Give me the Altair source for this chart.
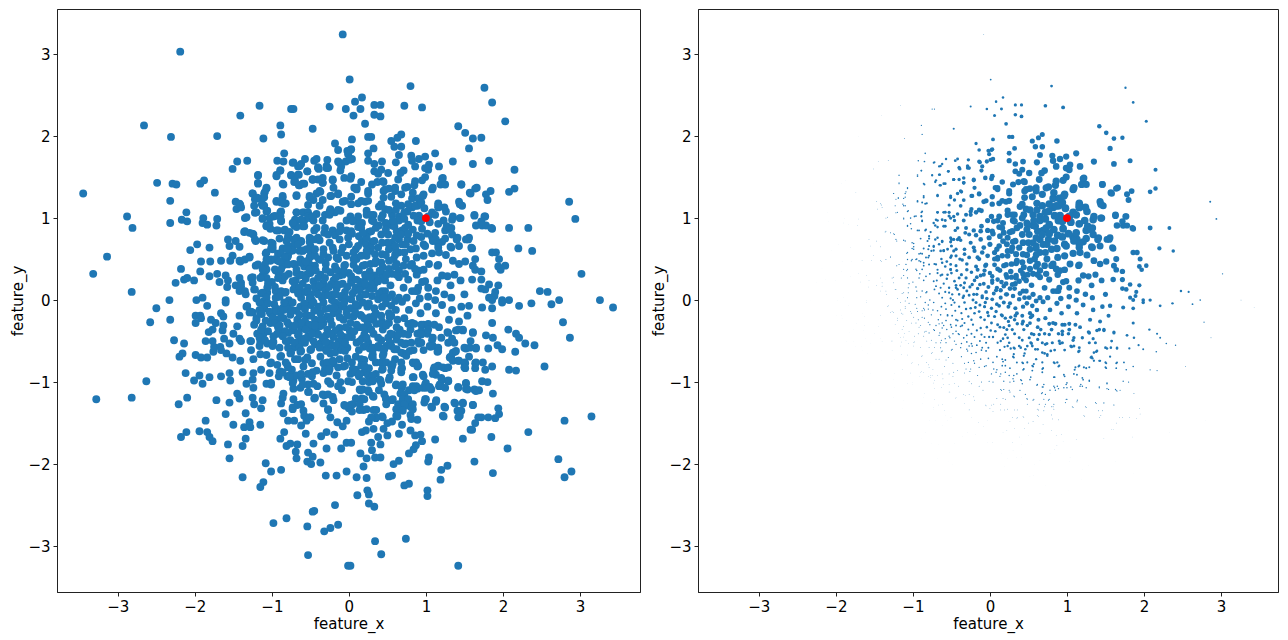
import altair as alt
import pandas as pd

UPPER_LEFT = [(-0.08,3.24),(-2.19,3.03),(-1.16,2.37),(-0.75,2.33),(-0.72,2.33),(-0.25,2.36),(-0.04,2.33),(-1.41,2.25),(-0.89,2.13),(-0.88,2.02),(-0.47,2.09),(-2.66,2.13),(-2.31,1.99),(-1.71,2.0),(-1.11,1.97),(-0.18,1.91),(-0.14,1.83),(-0.02,1.82),(-0.84,1.79),(-0.57,1.72),(-0.42,1.72),(-0.45,1.70),(-0.28,1.71),(-0.93,1.70),(-0.85,1.69),(-1.45,1.69),(-1.32,1.70),(-1.51,1.60),(-0.72,1.68),(-0.66,1.63),(-0.62,1.66),(-0.13,1.68),(-0.04,1.69),(-0.39,1.60),(-0.29,1.61),(-0.89,1.58),(-0.94,1.51),(-0.54,1.57),(-0.75,1.52),(-0.65,1.53),(-1.18,1.52),(-1.18,1.42),(-2.49,1.43),(-2.29,1.42),(-2.24,1.41),(-1.93,1.42),(-1.88,1.46),(-1.74,1.31),(-3.45,1.30),(-2.32,1.21),(-2.88,1.02),(-2.81,0.88),(-2.11,1.07),(-2.17,0.98),(-2.10,0.96),(-2.32,0.94),(-1.89,1.0),(-1.90,0.94),(-1.84,0.92),(-1.71,0.99),(-1.72,0.91),(-1.47,1.20),(-1.41,1.16),(-1.46,1.11),(-1.40,1.13),(-1.25,1.30),(-1.07,1.36),(-1.10,1.30),(-1.19,1.24),(-1.23,1.15),(-1.12,1.24),(-1.35,1.0),(-1.20,1.07),(-1.12,1.15),(-1.07,1.08),(-1.12,0.99),(-0.98,1.02),(-0.85,1.41),(-0.68,1.27),(-0.94,1.20),(-0.86,1.25),(-0.82,1.18),(-0.71,1.44),(-0.64,1.40),(-0.58,1.42),(-0.47,1.47),(-0.34,1.49),(-0.34,1.43),(-0.21,1.46),(-0.06,1.49),(-0.11,1.58),(-0.20,1.37),(-0.14,1.30),(-0.24,1.27),(-0.37,1.32),(-0.42,1.30),(-0.51,1.25),(-0.46,1.22),(-0.53,1.16),(-0.34,1.22),(-0.38,1.15),(-0.89,1.07),(-0.88,0.96),(-1.07,0.91),(-1.02,0.87),(-0.89,1.02),(-0.68,1.07),(-0.58,1.07),(-0.68,0.97),(-0.58,0.97),(-0.71,0.91),(-0.58,0.90),(-0.46,0.97),(-0.45,0.85),(-0.34,0.97),(-0.24,1.11),(-0.18,1.07),(-0.08,1.20),(-0.11,1.09),(-0.03,0.97),(-0.11,0.90),(-0.21,0.85),(-0.32,0.82),(-0.18,0.79),(-0.03,0.85),(-1.36,0.83),(-1.24,0.80),(-1.10,0.72),(-1.21,0.72),(-1.57,0.74),(-1.47,0.72),(-0.94,0.85),(-0.84,0.85),(-0.79,0.75),(-0.71,0.74),(-0.99,0.69),(-0.99,0.62),(-1.08,0.57),(-0.90,0.57),(-0.76,0.60),(-0.50,0.74),(-0.60,0.60),(-1.97,0.68),(-2.06,0.61),(-1.81,0.64),(-1.55,0.66),(-1.42,0.65),(-1.51,0.54),(-1.54,0.48),(-1.41,0.47),(-1.29,0.53),(-3.14,0.53),(-1.92,0.47),(-1.80,0.47),(-1.66,0.48),(-3.32,0.32),(-2.18,0.38),(-1.93,0.35),(-1.81,0.29),(-1.71,0.32),(-1.60,0.30),(-2.25,0.21),(-2.14,0.25),(-2.10,0.27),(-2.01,0.24),(-1.68,0.22),(-1.57,0.24),(-1.58,0.16),(-2.82,0.10),(-1.42,0.27),(-1.47,0.18),(-1.40,0.21),(-1.27,0.27),(-1.23,0.13),(-1.08,0.36),(-1.21,0.42),(-2.33,0.0),(-1.90,0.03),(-1.98,0.0),(-1.60,0.0),(-1.42,0.11),(-1.34,0.07),(-1.14,0.08),(-1.06,0.09),(-0.95,0.11),(-0.82,0.10),(-0.69,0.24),(-0.95,0.36),(-1.02,0.48),(-0.91,0.32)]

UPPER_RIGHT = [(0.01,2.69),(0.80,2.61),(1.76,2.59),(1.86,2.41),(0.17,2.47),(0.08,2.42),(0.15,2.33),(0.33,2.38),(0.41,2.38),(0.72,2.37),(0.95,2.35),(0.06,2.25),(0.33,2.26),(0.41,2.24),(0.21,2.15),(2.03,2.18),(1.42,2.12),(1.51,2.04),(1.61,1.97),(1.72,1.98),(0.25,1.99),(0.29,1.99),(0.68,2.02),(0.63,1.98),(0.55,1.94),(0.87,1.94),(0.04,1.96),(0.59,1.87),(0.68,1.87),(0.32,1.85),(0.02,1.83),(1.56,1.85),(0.25,1.79),(0.65,1.77),(0.81,1.76),(0.99,1.75),(1.12,1.79),(0.04,1.72),(0.91,1.72),(0.25,1.70),(0.33,1.66),(0.43,1.69),(0.61,1.68),(0.82,1.70),(1.35,1.69),(1.61,1.66),(1.82,1.70),(1.04,1.65),(0.99,1.61),(1.03,1.59),(0.86,1.63),(1.17,1.63),(2.15,1.59),(0.33,1.57),(0.42,1.59),(0.38,1.54),(0.51,1.55),(0.71,1.58),(0.67,1.55),(0.02,1.48),(0.16,1.44),(0.30,1.41),(0.37,1.44),(0.45,1.44),(0.99,1.50),(0.95,1.46),(1.21,1.48),(0.76,1.38),(0.85,1.40),(0.60,1.37),(0.52,1.36),(0.45,1.33),(0.07,1.37),(0.10,1.35),(0.25,1.30),(1.08,1.35),(1.19,1.41),(1.25,1.41),(1.46,1.41),(1.64,1.36),(1.58,1.30),(1.84,1.33),(1.78,1.29),(1.80,1.22),(2.08,1.32),(2.15,1.36),(2.86,1.20),(2.94,0.99),(0.45,1.25),(0.55,1.26),(0.97,1.29),(0.82,1.24),(0.90,1.24),(1.43,1.20),(1.47,1.15),(1.16,1.18),(1.16,1.13),(0.03,1.26),(0.21,1.20),(0.12,1.18),(0.61,1.18),(0.68,1.15),(0.39,1.14),(0.47,1.11),(0.23,1.09),(0.89,1.15),(0.82,1.13),(1.26,1.08),(1.08,1.07),(0.76,1.08),(0.56,1.04),(0.65,1.02),(0.32,1.04),(0.91,1.03),(1.63,1.03),(1.77,1.02),(1.45,1.0),(1.34,0.98),(1.23,0.97),(0.65,0.97),(0.48,0.94),(0.30,0.97),(0.10,0.97),(0.17,0.94),(0.02,1.02),(0.94,0.99),(0.89,0.97),(1.16,0.93),(1.65,0.91),(1.73,0.91),(1.78,0.91),(1.86,0.87),(2.08,0.88),(2.33,0.88),(0.39,0.91),(0.56,0.91),(0.69,0.85),(0.95,0.87),(1.33,0.88),(1.25,0.85),(1.34,0.80),(1.41,0.76),(1.25,0.75),(0.94,0.77),(1.08,0.77),(1.13,0.74),(1.56,0.76),(1.52,0.74),(1.21,0.71),(0.26,0.83),(0.42,0.80),(0.12,0.89),(0.04,0.81),(0.17,0.72),(0.65,0.74),(0.76,0.74),(0.84,0.72),(0.56,0.70),(0.50,0.70),(0.69,0.68),(0.97,0.68),(1.43,0.66),(1.32,0.65),(1.16,0.68),(1.60,0.63),(2.20,0.63),(2.38,0.60),(1.86,0.58),(1.91,0.58),(1.95,0.50),(0.38,0.64),(0.22,0.68),(0.09,0.62),(0.0,0.68),(0.52,0.62),(0.80,0.62),(0.65,0.58),(0.74,0.50),(0.97,0.54),(1.08,0.57),(1.17,0.58),(1.26,0.55),(1.35,0.48),(1.43,0.44),(1.51,0.47),(1.64,0.50),(1.61,0.42),(1.64,0.37),(1.72,0.35),(1.94,0.41),(2.03,0.42),(1.97,0.37),(3.02,0.32),(1.37,0.31),(1.45,0.24),(1.60,0.25),(1.72,0.25),(1.21,0.30),(1.28,0.29),(1.15,0.24),(1.32,0.18),(1.82,0.19),(1.94,0.18),(1.72,0.14),(1.77,0.13),(1.90,0.10),(1.89,0.05),(1.82,0.03),(1.86,0.0),(2.48,0.11),(2.58,0.10),(2.73,0.0),(3.26,0.0),(2.08,0.0),(1.99,0.0),(1.50,0.07),(1.33,0.03),(1.24,0.07),(1.13,0.11),(1.03,0.04),(0.89,0.11),(0.95,0.22),(0.82,0.44),(1.04,0.44),(1.15,0.42),(0.91,0.36),(0.65,0.36),(0.80,0.42),(0.52,0.48),(0.35,0.48),(0.13,0.36),(0.22,0.28),(0.43,0.32),(0.56,0.32),(0.65,0.28),(0.43,0.11),(0.71,0.15),(0.22,0.07),(0.30,0.05),(0.82,0.11),(0.56,0.07),(0.65,0.03),(0.09,0.15)]

LOWER_LEFT = [(-2.50,-0.10),(-2.58,-0.27),(-2.32,-0.24),(-1.84,-0.07),(-1.60,-0.03),(-1.99,-0.19),(-1.93,-0.19),(-1.92,-0.22),(-1.99,-0.28),(-1.79,-0.24),(-1.66,-0.16),(-1.63,-0.20),(-1.42,-0.19),(-1.33,-0.08),(-1.29,-0.15),(-1.25,-0.15),(-1.73,-0.28),(-1.77,-0.36),(-1.82,-0.39),(-1.63,-0.31),(-1.64,-0.37),(-1.45,-0.32),(-1.50,-0.41),(-2.27,-0.49),(-2.14,-0.53),(-1.86,-0.50),(-1.77,-0.50),(-1.62,-0.47),(-1.55,-0.53),(-1.42,-0.47),(-1.40,-0.50),(-2.16,-0.65),(-2.20,-0.69),(-1.99,-0.67),(-1.92,-0.70),(-1.84,-0.70),(-1.76,-0.63),(-1.75,-0.57),(-1.67,-0.57),(-1.66,-0.61),(-1.59,-0.65),(-1.51,-0.70),(-1.41,-0.74),(-1.27,-0.50),(-1.27,-0.61),(-1.24,-0.72),(-1.15,-0.66),(-1.07,-0.67),(-1.02,-0.77),(-2.12,-0.89),(-1.94,-0.92),(-2.01,-0.98),(-1.90,-1.02),(-1.81,-0.94),(-1.66,-0.93),(-1.55,-0.89),(-1.54,-0.98),(-1.38,-0.88),(-2.63,-0.99),(-3.28,-1.21),(-2.82,-1.19),(-2.10,-1.19),(-2.21,-1.27),(-1.72,-1.22),(-1.55,-1.25),(-1.45,-1.14),(-1.42,-1.20),(-1.33,-1.02),(-1.24,-1.07),(-1.24,-0.89),(-1.25,-0.97),(-1.14,-0.85),(-1.03,-0.89),(-1.07,-1.02),(-1.01,-1.03),(-1.25,-1.19),(-1.23,-1.27),(-1.12,-1.22),(-1.14,-1.32),(-1.60,-1.39),(-1.34,-1.38),(-1.86,-1.47),(-1.50,-1.52),(-1.29,-1.49),(-1.36,-1.55),(-1.28,-1.55),(-1.15,-1.52),(-2.11,-1.61),(-2.18,-1.67),(-1.94,-1.60),(-1.84,-1.61),(-1.81,-1.67),(-1.77,-1.72),(-1.34,-1.69),(-1.57,-1.76),(-1.38,-1.78),(-1.55,-1.93),(-0.86,-1.19),(-0.88,-1.26),(-0.85,-1.14),(-0.85,-1.38),(-0.72,-1.21),(-0.67,-1.28),(-0.73,-1.33),(-0.59,-1.35),(-0.58,-1.41),(-0.50,-1.43),(-0.79,-1.47),(-0.71,-1.47),(-0.55,-1.47),(-0.62,-1.53),(-0.84,-1.61),(-0.89,-1.69),(-0.56,-1.63),(-0.46,-1.75),(-0.36,-1.66),(-0.29,-1.61),(-0.19,-1.64),(-0.81,-1.78),(-0.76,-1.75),(-0.67,-1.76),(-0.69,-1.85),(-0.68,-1.93),(-0.53,-1.86),(-0.47,-1.91),(-0.54,-1.97),(-0.49,-2.0),(-0.37,-1.98),(-0.29,-1.81),(-0.10,-1.81),(-0.03,-1.74),(-1.08,-1.99),(-1.01,-2.09),(-0.88,-2.07),(-1.38,-2.16),(-1.11,-2.22),(-1.15,-2.28),(-0.30,-2.14),(-0.16,-2.14),(-0.03,-2.09),(-0.18,-2.50),(-0.45,-2.57),(-0.47,-2.58),(-0.81,-2.66),(-0.98,-2.72),(-0.54,-2.76),(-0.32,-2.82),(-0.24,-2.78),(-0.14,-2.74),(-0.53,-3.11),(-0.01,-3.24),(-0.45,-1.20),(-0.32,-1.16),(-0.21,-1.18),(-0.33,-1.26),(-0.20,-1.22),(-0.06,-1.28),(0.0,-1.32),(-0.27,-1.34),(-0.24,-1.43),(-0.15,-1.49),(-0.08,-1.54),(-0.03,-1.47),(-0.72,-1.08),(-0.63,-1.07),(-0.52,-1.12),(-0.41,-1.05),(-0.09,-1.10),(-0.89,-0.87),(-0.91,-0.93),(-0.80,-0.93),(-0.74,-0.85),(-0.72,-0.98),(-0.61,-0.96),(-0.48,-0.93),(-0.46,-1.02),(-0.33,-0.89),(-0.26,-0.87),(-0.24,-1.02),(-0.11,-1.0),(-0.07,-0.81),(-0.20,-0.77),(-0.33,-0.77),(-0.48,-0.77),(-0.59,-0.81),(-0.80,-0.79),(-0.93,-0.79),(-0.89,-0.69),(-0.76,-0.65),(-0.63,-0.63),(-0.50,-0.61),(-0.37,-0.69),(-0.24,-0.65),(-0.11,-0.61),(-0.02,-0.71),(-1.06,-0.53),(-0.98,-0.51),(-1.15,-0.51),(-1.19,-0.41),(-1.11,-0.41),(-0.93,-0.41),(-1.02,-0.28),(-1.15,-0.16),(-1.02,-0.16),(-0.93,-0.24),(-0.85,-0.12),(-0.76,-0.18),(-0.63,-0.08),(-0.50,-0.06),(-0.37,-0.16),(-0.67,-0.24),(-0.50,-0.33),(-0.33,-0.28),(-0.20,-0.16),(-0.07,-0.24),(-0.07,-0.08),(-0.41,-0.41),(-0.20,-0.45),(-0.07,-0.45),(-0.76,-0.49),(-0.63,-0.49),(-0.37,-0.53),(-0.24,-0.53),(-0.85,-0.39),(-0.72,-0.37)]

LOWER_RIGHT = [(3.43,-0.09),(2.63,-0.05),(2.37,-0.04),(2.21,-0.07),(1.99,-0.03),(1.86,-0.10),(1.73,-0.09),(1.56,-0.07),(1.46,-0.08),(1.54,-0.19),(2.78,-0.27),(2.87,-0.46),(1.86,-0.28),(2.07,-0.36),(2.17,-0.41),(2.21,-0.46),(2.29,-0.53),(2.41,-0.55),(1.78,-0.43),(1.87,-0.46),(1.93,-0.55),(1.99,-0.60),(2.16,-0.63),(2.54,-0.81),(2.08,-0.85),(2.17,-0.86),(1.86,-0.81),(1.77,-0.85),(1.74,-0.76),(1.64,-0.77),(1.64,-0.83),(1.51,-0.77),(1.51,-0.83),(1.56,-0.69),(1.81,-0.59),(1.65,-0.59),(1.52,-0.59),(1.48,-0.37),(1.39,-0.37),(1.61,-0.39),(1.58,-0.50),(1.28,-0.39),(1.34,-0.47),(1.38,-0.63),(1.33,-0.71),(1.43,-0.74),(1.25,-0.83),(1.15,-0.81),(1.10,-0.85),(1.13,-0.91),(1.73,-0.99),(1.80,-1.0),(1.52,-1.02),(1.54,-1.09),(1.42,-1.07),(1.64,-1.10),(1.69,-1.10),(1.87,-1.14),(1.21,-0.97),(1.29,-0.99),(1.17,-1.05),(1.25,-1.07),(0.97,-0.93),(0.84,-0.94),(0.84,-1.07),(0.99,-1.03),(1.07,-1.09),(0.89,-1.08),(0.99,-1.21),(1.13,-1.24),(1.08,-1.31),(1.25,-1.31),(1.38,-1.26),(1.48,-1.26),(1.61,-1.28),(1.41,-1.35),(1.46,-1.35),(1.94,-1.32),(1.95,-1.39),(1.90,-1.44),(1.81,-1.43),(1.72,-1.43),(1.68,-1.43),(1.23,-1.42),(1.42,-1.43),(2.80,-1.47),(3.15,-1.42),(2.33,-1.61),(1.64,-1.50),(1.58,-1.58),(1.60,-1.58),(1.48,-1.69),(1.85,-1.67),(2.06,-1.81),(1.12,-1.70),(0.95,-1.72),(0.93,-1.64),(0.86,-1.65),(0.80,-1.59),(0.65,-1.63),(0.69,-1.52),(0.50,-1.65),(0.87,-1.77),(0.84,-1.82),(0.78,-1.87),(1.04,-1.92),(1.03,-1.97),(0.65,-1.96),(0.58,-2.0),(1.28,-2.02),(1.20,-2.07),(1.63,-1.97),(2.72,-1.94),(2.89,-2.09),(2.80,-2.16),(1.87,-2.11),(1.19,-2.19),(0.56,-2.14),(0.52,-2.15),(0.78,-2.24),(0.72,-2.26),(1.02,-2.32),(1.02,-2.39),(0.10,-2.16),(0.23,-2.17),(0.11,-2.38),(0.24,-2.32),(0.26,-2.37),(0.26,-2.48),(0.33,-2.52),(0.34,-2.94),(0.74,-2.91),(0.42,-3.10),(0.02,-3.24),(1.42,-3.24),(0.15,-1.87),(0.23,-1.93),(0.19,-2.03),(0.34,-1.92),(0.41,-1.92),(0.30,-1.83),(0.29,-1.74),(0.38,-1.67),(0.41,-1.76),(0.03,-1.74),(0.17,-1.61),(0.22,-1.59),(0.32,-1.57),(0.45,-1.57),(0.50,-1.50),(0.63,-1.42),(0.56,-1.48),(0.26,-1.48),(0.35,-1.44),(0.43,-1.42),(0.80,-1.40),(0.89,-1.46),(0.80,-1.30),(0.63,-1.34),(0.71,-1.30),(0.82,-1.30),(0.76,-1.22),(0.56,-1.22),(0.48,-1.20),(0.67,-1.14),(0.17,-1.20),(0.09,-1.20),(0.32,-1.18),(0.19,-1.34),(0.32,-1.34),(0.04,-1.36),(0.02,-1.28),(0.15,-1.10),(0.26,-1.12),(0.39,-1.10),(0.61,-1.04),(0.69,-1.06),(0.78,-1.10),(0.52,-0.97),(0.41,-0.98),(0.30,-0.96),(0.13,-0.93),(0.04,-1.0),(0.26,-1.0),(0.09,-0.85),(0.26,-0.83),(0.43,-0.85),(0.56,-0.81),(0.69,-0.83),(0.84,-0.77),(0.89,-0.81),(0.43,-0.77),(0.17,-0.75),(0.30,-0.69),(0.45,-0.65),(0.71,-0.65),(0.84,-0.61),(0.97,-0.61),(1.06,-0.57),(1.15,-0.63),(1.32,-0.69),(0.13,-0.61),(0.09,-0.69),(0.19,-0.57),(0.32,-0.59),(0.54,-0.53),(0.74,-0.53),(0.91,-0.53),(0.54,-0.41),(0.71,-0.41),(0.89,-0.41),(1.02,-0.41),(1.17,-0.33),(1.08,-0.49),(0.82,-0.28),(0.97,-0.30),(0.63,-0.24),(0.43,-0.26),(0.24,-0.26),(0.13,-0.33),(0.06,-0.20),(0.24,-0.08),(0.43,-0.08),(0.61,-0.12),(0.78,-0.12),(0.93,-0.16),(1.13,-0.16),(1.21,-0.06),(1.34,-0.12),(1.43,-0.26),(0.69,-0.02),(0.48,-0.04),(0.26,-0.04),(1.02,-0.08),(0.04,-0.45),(0.17,-0.47),(0.32,-0.41),(0.15,-0.18),(0.35,-0.16),(0.52,-0.16),(0.87,-0.04),(1.30,-0.24)]

CORE = [(-0.62,0.72),(-0.5,0.66),(-0.38,0.73),(-0.25,0.70),(-0.12,0.74),(0.13,0.78),(0.3,0.71),(-0.86,0.63),(-0.73,0.66),(-0.47,0.6),(-0.33,0.62),(-0.2,0.6),(-0.08,0.64),(0.06,0.58),(0.28,0.6),(0.43,0.56),(-0.95,0.5),(-0.8,0.52),(-0.63,0.5),(-0.5,0.54),(-0.39,0.5),(-0.27,0.52),(-0.14,0.5),(-0.03,0.54),(0.1,0.5),(0.23,0.54),(0.42,0.46),(0.58,0.5),(-0.86,0.42),(-0.72,0.44),(-0.58,0.41),(-0.44,0.42),(-0.3,0.44),(-0.18,0.41),(-0.06,0.42),(0.06,0.43),(0.18,0.42),(0.28,0.44),(0.44,0.4),(0.62,0.44),(-1.12,0.3),(-0.78,0.32),(-0.64,0.3),(-0.5,0.33),(-0.37,0.31),(-0.24,0.34),(-0.12,0.3),(0.0,0.33),(0.27,0.35),(0.34,0.3),(0.52,0.38),(-1.0,0.22),(-0.86,0.24),(-0.6,0.2),(-0.46,0.23),(-0.33,0.21),(-0.2,0.24),(-0.08,0.2),(0.03,0.24),(0.15,0.22),(0.33,0.2),(0.47,0.24),(-1.06,0.15),(-0.72,0.13),(-0.58,0.1),(-0.42,0.13),(-0.3,0.11),(-0.16,0.14),(-0.05,0.1),(0.08,0.12),(0.32,0.14),(0.54,0.18),(-1.2,0.02),(-1.1,-0.01),(-0.95,0.03),(-0.78,0.0),(-0.62,0.03),(-0.48,0.0),(-0.35,0.03),(-0.22,0.0),(-0.1,0.03),(0.03,0.01),(0.14,0.03),(0.38,0.01),(0.6,-0.01),(0.75,0.03),(0.92,0.02),(1.12,0.0),(-1.1,-0.08),(-0.95,-0.1),(-0.8,-0.06),(-0.4,-0.08),(-0.25,-0.1),(-0.13,-0.06),(0.02,-0.1),(0.12,-0.07),(0.33,-0.1),(0.55,-0.07),(-1.2,-0.22),(-1.08,-0.25),(-0.85,-0.22),(-0.55,-0.18),(-0.44,-0.24),(-0.28,-0.2),(-0.14,-0.14),(0.02,-0.28),(0.08,-0.14),(0.32,-0.24),(0.52,-0.28),(0.72,-0.22),(-1.12,-0.32),(-0.92,-0.33),(-0.78,-0.3),(-0.62,-0.34),(-0.38,-0.32),(-0.22,-0.3),(-0.12,-0.34),(0.01,-0.37),(0.22,-0.36),(0.44,-0.36),(0.62,-0.33),(0.8,-0.36),(-0.98,-0.44),(-0.66,-0.43),(-0.52,-0.46),(-0.3,-0.43),(-0.13,-0.5),(0.1,-0.52),(0.42,-0.49),(0.62,-0.48),(-0.9,-0.58),(-0.72,-0.58),(-0.44,-0.54),(-0.3,-0.6),(-0.02,-0.58),(0.25,-0.52),(0.4,-0.58),(0.62,-0.6),(-0.82,-0.76),(-0.66,-0.72),(-0.54,-0.7),(-0.28,-0.76),(-0.12,-0.72),(0.04,-0.76),(0.35,-0.76),(0.6,-0.72),(-0.75,-0.92),(-0.42,-0.86),(-0.16,-0.92),(0.02,-0.9),(0.2,-0.88),(0.35,-0.9)]

MID_LEFT = [(-1.16,-0.03),(-1.10,-0.10),(-1.16,-0.12),(-1.32,-0.07),(-1.27,-0.14),(-1.13,-0.17),(-1.03,-0.14),(-0.99,-0.21),(-0.94,-0.14),(-0.88,-0.13),(-0.86,-0.10),(-0.80,-0.11),(-0.88,-0.21),(-0.96,-0.28),(-0.90,-0.31),(-1.05,-0.38),(-1.20,-0.25),(-1.23,-0.30),(-1.14,-0.36),(-1.12,-0.45),(-1.16,-0.46),(-1.28,-0.50),(-1.09,-0.49),(-0.99,-0.52),(-0.99,-0.56),(-1.16,-0.56),(-0.73,-0.36),(-0.79,-0.40),(-0.83,-0.38),(-0.86,-0.44),(-0.66,-0.29),(-0.60,-0.31),(-0.68,-0.13),(-0.64,-0.18),(-0.55,-0.19),(-0.57,-0.25),(-0.51,-0.30),(-0.42,-0.25),(-0.36,-0.31),(-0.44,-0.38),(-0.40,-0.42),(-0.53,-0.44),(-0.57,-0.52),(-0.64,-0.52),(-0.70,-0.52),(-0.64,-0.58),(-0.79,-0.58),(-0.75,-0.64),(-0.88,-0.68),(-0.62,-0.62),(-0.49,-0.60),(-0.38,-0.58),(-0.27,-0.56),(-0.23,-0.56),(-0.29,-0.62),(-0.18,-0.64),(-0.10,-0.58),(-0.05,-0.62),(-0.57,-0.73),(-0.70,-0.72),(-0.79,-0.82),(-1.01,-0.76),(-0.90,-0.88),(-0.77,-0.92),(-0.68,-0.92),(-0.53,-0.90),(-0.47,-0.88),(-0.62,-0.90),(-0.31,-0.84),(-0.25,-0.84),(-0.21,-0.74),(-0.14,-0.82),(-0.05,-0.80),(0.05,-0.84),(-0.27,-0.99),(-0.14,-1.05),(-0.01,-0.99),(0.08,-0.88),(-0.53,-1.03),(-0.60,-1.03),(-0.73,-1.01),(-0.77,-0.94),(-0.86,-0.88),(-1.01,-1.01),(-0.53,-1.12),(-0.34,-1.15),(-0.27,-1.15),(-0.44,-1.19),(-0.05,-1.29),(0.05,-1.27),(-0.27,-1.33),(-0.62,-1.27),(-0.73,-1.31),(-0.51,-1.43)]

MID_RIGHT = [(.16,-.19),(.27,-.21),(.33,-.19),(.42,-.19),(.53,-.21),(.55,-.19),(.355,-.29),(.42,-.29),(.485,-.31),(.25,-.31),(.18,-.335),(.29,-.36),(.38,-.46),(.20,-.42),(.23,-.46),(.51,-.46),(.57,-.42),(.66,-.36),(.77,-.29),(.85,-.29),(.94,-.30),(1.03,-.29),(1.11,-.30),(.94,-.38),(1.03,-.36),(.94,-.42),(.77,-.42),(.64,-.42),(1.09,-.46),(1.2,-.46),(1.29,-.40),(1.42,-.36),(1.48,-.36),(1.29,-.52),(1.37,-.52),(1.61,-.40),(.14,-.50),(.23,-.56),(.27,-.59),(.31,-.58),(.38,-.56),(.485,-.56),(.53,-.52),(.55,-.56),(.46,-.60),(.59,-.60),(.68,-.52),(.72,-.54),(.81,-.52),(.90,-.50),(.94,-.52),(1.05,-.56),(1.09,-.56),(1.16,-.58),(1.16,-.62),(.68,-.64),(.745,-.66),(.745,-.68),(.79,-.62),(1.31,-.70),(1.35,-.64),(1.39,-.62),(1.50,-.58),(1.57,-.58),(1.65,-.58),(.16,-.72),(.20,-.73),(.31,-.66),(.31,-.70),(.44,-.68),(1.35,-.74),(1.42,-.74),(.16,-.80),(.20,-.80),(.42,-.76),(.485,-.76),(.55,-.80),(.57,-.78),(.68,-.76),(.83,-.76),(.875,-.76),(.90,-.80),(.68,-.84),(.55,-.86),(.44,-.84),(1.16,-.80),(1.11,-.82),(1.22,-.82),(1.29,-.82),(1.50,-.76),(1.50,-.82),(1.65,-.76),(.14,-.90),(.25,-.92),(.31,-.92),(.40,-.97),(.53,-.94),(.68,-.88),(.83,-.94),(.96,-.91),(1.09,-.90),(1.2,-.95),(1.29,-.98),(.18,-.99),(.31,-.99),(.14,-1.09),(.18,-1.09),(.25,-1.10),(.42,-1.02),(.615,-1.03),(.70,-1.03),(.68,-1.06),(.83,-1.05),(.875,-1.05),(1.0,-1.01),(.96,-1.07),(1.0,-1.07),(1.05,-1.06),(1.18,-1.03),(1.2,-1.05),(1.42,-1.06),(1.52,-1.01),(1.52,-1.08),(1.63,-1.09),(1.65,-1.11),(.31,-1.17),(.46,-1.15),(.68,-1.13),(.72,-1.15),(.85,-1.10),(.20,-1.21),(.485,-1.21),(.57,-1.21),(.70,-1.21),(.77,-1.21),(1.0,-1.21),(1.135,-1.22),(.98,-1.25),(.14,-1.27),(.485,-1.27),(.64,-1.27),(.72,-1.27),(.83,-1.27),(1.07,-1.30),(1.24,-1.30),(1.37,-1.25),(1.48,-1.25),(1.61,-1.28),(.14,-1.34),(.23,-1.33),(.355,-1.34),(.615,-1.33),(.70,-1.35),(.83,-1.33),(1.44,-1.41),(.615,-1.41),(.44,-1.43),(.355,-1.43),(.29,-1.43),(.81,-1.45),(1.22,-1.41)]

UPPER_MID = [(-1.18,1.525),(-1.18,1.43),(-1.07,1.37),(-.94,1.525),(-.89,1.58),(-.86,1.42),(-.75,1.525),(-.70,1.46),(-.65,1.40),(-.60,1.42),(-.66,1.53),(-.64,1.635),(-.73,1.675),(-.54,1.57),(-.40,1.62),(-.29,1.635),(-.47,1.47),(-.40,1.47),(-1.09,1.32),(-1.25,1.30),(-1.10,1.255),(-1.22,1.23),(-1.19,1.25),(-.86,1.27),(-.68,1.28),(-.94,1.21),(-.88,1.19),(-.84,1.175),(-1.13,1.17),(-1.10,1.15),(-1.22,1.065),(-1.06,1.09),(-.88,1.08),(-.89,1.025),(-.88,.97),(-.96,1.025),(-1.03,1.0),(-1.03,.93),(-1.12,1.0),(-1.07,.90),(-.68,1.07),(-.60,1.07),(-.53,1.07),(-.53,1.025),(-.42,1.05),(-.70,.98),(-.62,.98),(-.60,.90),(-.68,.89),(-.73,.94),(-.92,.85),(-.83,.86),(-.77,.83),(-1.35,.84),(-1.29,.82),(-1.25,.81),(-1.42,1.175),(-1.33,1.01),(-.79,.78),(-.81,.72),(-.90,.75),(-1.12,.73),(-1.01,.70),(-1.22,.74),(-.99,.65),(-1.01,.63),(-.68,.76),(-.62,.71),(-.51,.76),(-.51,.71),(-.42,.74),(-.73,.65),(-.73,.605),(-.66,.68),(-.79,.66),(-1.07,.58),(-.92,.565),(-.88,.565),(-.79,.54),(-.83,.52),(-.64,.60),(-.60,.605),(-1.01,.495),(-1.07,.495),(-.96,.495),(-.92,.48),(-.86,.455),(-.79,.435),(-.70,.435),(-.62,.455),(-1.42,.48),(-1.35,.495),(-1.29,.52),(-1.18,.435),(-1.09,.435),(-1.07,.375),(-.96,.375),(-.88,.375),(-.83,.29),(-.92,.27),(-1.07,.27),(-1.25,.28),(-1.12,.375),(-.51,.435),(-.51,.375),(-.55,.31),(-.62,.31),(-.68,.33),(-1.40,.17),(-1.35,.11),(-1.22,.13),(-1.12,.09),(-1.07,.03),(-.88,.11),(-.83,.09),(-.73,.23),(-.70,.17),(-.64,.15),(-.53,.15),(-.44,.18),(-.53,.09)]

NEAR = [(-.51,.52),(-.44,.54),(-.36,.49),(-.51,.37),(-.40,.27),(-.31,.27),(-.44,.15),(-.34,.15),(-.23,.19),(-.49,.07),(-.34,.05),(-.21,.07),(-.10,.05),(.03,.21),(-.08,.31),(.03,.29),(-.16,.37),(-.05,.43),(-.16,.52),(-.21,.64),(-.01,.76),(-.12,.84),(-.27,.80),(-.31,.88),(-.42,.88),(-.40,.76),(-.47,.74),(-.31,1.04),(-.25,1.04),(-.51,1.0),(-.47,1.02),(-.25,1.08),(-.14,1.10),(-.05,1.21),(.03,1.17),(.16,1.21),(.25,1.21),(-.14,1.29),(-.23,1.27),(-.38,1.33),(-.51,1.27),(.03,1.51),(-.21,1.47),(-.34,1.43),(-.47,1.47),(-.40,1.61),(-.27,1.61),(-.10,1.63),(-.14,1.69),(.01,1.71),(.03,1.84),(-.01,1.78),(.10,1.37),(.25,1.33),(.12,1.02),(.23,1.04),(.05,.96),(.29,1.04),(.42,1.17),(.44,1.04),(.16,.88),(.29,.84),(.03,.84),(.23,.76),(.12,.66),(.29,.64),(.23,.60),(.10,.52),(.21,.43),(.34,.45),(.21,.31),(.34,.27),(.18,.17),(.29,.19),(.21,.07),(.47,.11),(.51,.03),(.44,.27),(.60,.41),(.62,.31),(.77,.25),(.88,.31),(.99,.23),(.90,.15),(1.03,.15),(.86,.11),(1.16,.43),(1.09,.72),(1.16,.64),(.99,.66),(.60,.76),(.62,.84),(.68,.80),(.73,.88),(.51,.80),(.49,.92),(.83,.86),(.77,.92),(.94,.96),(.77,1.17),(.86,1.15),(.94,1.19),(.68,1.29),(.96,1.27),(.83,1.31),(.73,1.37),(.60,1.33),(.47,1.35),(.44,1.45),(.64,1.47),(.86,1.45),(1.09,1.37),(1.22,1.49),(1.46,1.41),(1.66,1.37),(1.57,1.31),(1.44,1.17),(1.35,1.02),(1.44,1.0),(1.63,1.04),(1.76,1.02),(1.24,1.13),(1.16,1.15),(1.27,.90),(1.31,.86),(1.40,.74),(1.55,.74),(1.33,.64),(1.59,.64),(1.85,.88),(1.72,.96)]

FILL = [(-.56,.47),(-.33,.56),(-.10,.58),(-.68,.37),(-.43,.36),(-.30,.37),(-.17,.28),(-.07,.36),(-.56,.26),(-.38,.18),(-.26,.16),(-.13,.19),(-.02,.16),(-.66,.08),(-.51,.02),(-.40,.07),(-.27,.06),(-.17,.07),(-.04,.02),(-.73,-.03),(-.58,-.04),(-.46,-.03),(-.33,-.03),(-.18,-.03),(-.06,-.03),(-.74,-.12),(-.57,-.11),(-.45,-.13),(-.31,-.11),(-.19,-.09),(-.03,-.15),(-.80,-.27),(-.62,-.28),(-.49,-.19),(-.36,-.23),(-.24,-.24),(-.12,-.21),(-.02,-.19),(-.70,-.31),(-.56,-.36),(-.44,-.31),(-.28,-.36),(-.17,-.37),(-.04,-.33),(-.65,-.40),(-.48,-.41),(-.34,-.46),(-.24,-.41),(-.11,-.42),(-.01,-.45),(-.82,-.50),(-.58,-.47),(-.46,-.50),(-.30,-.51),(-.17,-.55),(-.05,-.52),(.07,-.38),(.10,-.30),(.20,-.22),(.09,-.05),(.18,-.03),(.05,.08),(.14,.12),(.26,.14),(.39,.08),(.45,.03),(.10,.25),(.21,.20),(.38,.23),(.10,.38),(.28,.28),(.40,.36),(.49,.31),(.06,.50),(.16,.54),(.34,.56),(.48,.55),(.60,.55),(.71,.42),(.73,.32),(.86,.38),(.97,.37),(.88,.52),(.60,.63),(.72,.58),(.87,.63),(.33,.72),(.43,.70),(.60,.66),(.74,.68),(.18,.82),(.35,.88),(.48,.86),(.59,.90),(.77,.81),(.88,.79),(1.02,.81),(1.12,.82),(.32,.96),(.42,1.00),(.57,.97),(.72,.99),(.84,1.03),(1.03,1.02),(1.12,1.04),(.52,1.10),(.61,1.10),(.72,1.07),(.98,1.12),(1.05,.95),(-1.25,.21),(-1.15,.27),(-1.05,.20),(-.96,.16),(-.90,.04),(-.84,-.03),(-.97,-.05),(-1.05,-.04),(-.90,.47),(-.80,.62),(-.55,.62),(-.44,.62)]

QUERY_X = [1.0]
QUERY_Y = [1.0]
X_TICKS = [-3, -2, -1, 0, 1, 2, 3]
Y_TICKS = [-3, -2, -1, 0, 1, 2, 3]
LEFT_X_DOMAIN = [-3.79, 3.78]
RIGHT_X_DOMAIN = [-3.79, 3.74]
Y_DOMAIN = [-3.56, 3.55]

rows = UPPER_LEFT + UPPER_RIGHT + LOWER_LEFT + LOWER_RIGHT + CORE + MID_LEFT + MID_RIGHT + UPPER_MID + NEAR + FILL
points = pd.DataFrame(rows, columns=["feature_x", "feature_y"])
query = pd.DataFrame({"feature_x": QUERY_X, "feature_y": QUERY_Y})

BLUE = "#1f77b4"
W_LEFT, W_RIGHT, H = 583, 580, 583
FULL = 62


def x_enc(domain):
    return alt.X("feature_x:Q", scale=alt.Scale(domain=domain, nice=False, zero=False),
                 axis=alt.Axis(values=X_TICKS, title="feature_x", format="d"))


y_enc = alt.Y("feature_y:Q", scale=alt.Scale(domain=Y_DOMAIN, nice=False, zero=False),
              axis=alt.Axis(values=Y_TICKS, title="feature_y", format="d"))

left = alt.Chart(points).mark_circle(color=BLUE, opacity=1).encode(
    x=x_enc(LEFT_X_DOMAIN), y=y_enc, size=alt.value(FULL))
left_red = alt.Chart(query).mark_circle(color="#ff0000", opacity=1).encode(
    x=x_enc(LEFT_X_DOMAIN), y=y_enc, size=alt.value(FULL))
right = (
    alt.Chart(points)
    .transform_calculate(
        d2="pow(datum.feature_x-1,2)+pow(datum.feature_y-1,2)",
        w=f"{FULL}*exp(-datum.d2/(2*0.64))",
    )
    .mark_circle(color=BLUE, opacity=1)
    .encode(x=x_enc(RIGHT_X_DOMAIN), y=y_enc, size=alt.Size("w:Q", scale=None, legend=None))
)
right_red = alt.Chart(query).mark_circle(color="#ff0000", opacity=1).encode(
    x=x_enc(RIGHT_X_DOMAIN), y=y_enc, size=alt.value(FULL))

chart = (
    alt.hconcat((left + left_red).properties(width=W_LEFT, height=H),
                (right + right_red).properties(width=W_RIGHT, height=H), spacing=10)
    .properties(padding={"left": 2, "top": 0, "right": 0, "bottom": 3})
    .configure_view(stroke="#222222", strokeWidth=1)
    .configure_axis(
        grid=False, labelFont="DejaVu Sans", titleFont="DejaVu Sans", labelFontSize=15,
        titleFontSize=15, titleFontWeight="normal", labelColor="#000", titleColor="#000",
        tickColor="#222", domainColor="#222", tickSize=4, labelPadding=3, titlePadding=2,
    )
)
chart.save("out.html", embed_options={"renderer": "svg", "actions": False})
